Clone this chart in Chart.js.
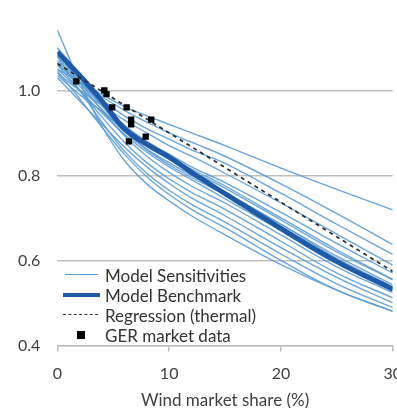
<!DOCTYPE html>
<html>
<head>
<meta charset="utf-8">
<script src="https://cdn.jsdelivr.net/npm/chart.js@4"></script>
<style>
  html, body { margin: 0; padding: 0; background: #fff; overflow: hidden; }
  #wrap { position: relative; width: 415px; height: 408px; }
  #legend { position: absolute; left: 62px; top: 265px; font-family: Lato, sans-serif; font-size: 17px; color: #333; }
  #legend .row { height: 20px; display: flex; align-items: center; }
  #legend .key { width: 40px; height: 20px; position: relative; margin-right: 3px; }
  #legend .thin { position: absolute; left: 3px; right: 4px; top: 9px; border-top: 1px solid #5b9bd5; }
  #legend .thick { position: absolute; left: 1px; right: 2px; top: 8px; border-top: 4px solid #1f5aa6; }
  #legend .dash { position: absolute; left: 1px; right: 4px; top: 9px; border-top: 1.5px dashed #333; }
  #legend .sq { position: absolute; left: 15px; top: 6px; width: 8px; height: 8px; background: #000; }
</style>
</head>
<body>
<div id="wrap">
  <canvas id="chart" width="415" height="408"></canvas>
  <div id="legend">
    <div class="row"><div class="key"><div class="thin"></div></div>Model Sensitivities</div>
    <div class="row"><div class="key"><div class="thick"></div></div>Model Benchmark</div>
    <div class="row"><div class="key"><div class="dash"></div></div>Regression (thermal)</div>
    <div class="row"><div class="key"><div class="sq"></div></div>GER market data</div>
  </div>
</div>
<script>
const shares = [0, 2, 4, 6, 8, 10, 12, 15, 20, 25, 30];

const sensitivities = [
  [1.142, 1.02, 0.915, 0.835, 0.78, 0.74, 0.705, 0.66, 0.59, 0.53, 0.48],
  [1.05, 1.02, 0.99, 0.962, 0.94, 0.92, 0.90, 0.87, 0.817, 0.767, 0.719],
  [1.06, 1.02, 0.985, 0.953, 0.925, 0.90, 0.878, 0.845, 0.78, 0.71, 0.637],
  [1.07, 1.02, 0.977, 0.94, 0.91, 0.885, 0.86, 0.828, 0.758, 0.685, 0.614],
  [1.04, 1.00, 0.965, 0.93, 0.90, 0.87, 0.845, 0.805, 0.735, 0.662, 0.589],
  [1.08, 1.02, 0.965, 0.918, 0.88, 0.85, 0.82, 0.783, 0.713, 0.64, 0.57],
  [1.035, 0.99, 0.95, 0.91, 0.875, 0.845, 0.815, 0.775, 0.70, 0.625, 0.555],
  [1.10, 1.03, 0.963, 0.905, 0.86, 0.825, 0.795, 0.755, 0.685, 0.61, 0.543],
  [1.05, 1.00, 0.947, 0.897, 0.855, 0.82, 0.79, 0.745, 0.67, 0.595, 0.53],
  [1.09, 1.02, 0.953, 0.893, 0.845, 0.807, 0.775, 0.735, 0.66, 0.585, 0.524],
  [1.06, 1.00, 0.937, 0.878, 0.83, 0.792, 0.76, 0.72, 0.645, 0.57, 0.512],
  [1.03, 0.975, 0.92, 0.867, 0.82, 0.781, 0.747, 0.705, 0.63, 0.56, 0.50],
  [1.08, 1.00, 0.925, 0.857, 0.805, 0.765, 0.732, 0.69, 0.615, 0.545, 0.489],
  [1.045, 0.98, 0.913, 0.85, 0.797, 0.755, 0.72, 0.677, 0.60, 0.53, 0.48],
  [1.10, 1.04, 0.975, 0.915, 0.87, 0.838, 0.81, 0.77, 0.695, 0.62, 0.555],
  [1.065, 1.01, 0.955, 0.903, 0.862, 0.83, 0.80, 0.76, 0.685, 0.605, 0.538]
];

const benchmark = [1.09, 1.035, 0.975, 0.91, 0.873, 0.843, 0.807, 0.757, 0.675, 0.597, 0.532];

const regressionX = [0, 30];
const regressionY = [1.063, 0.574];

const marketX = [1.7, 4.2, 4.4, 4.9, 6.2, 6.6, 6.6, 8.4, 6.4, 7.9];
const marketY = [1.021, 1.0, 0.991, 0.96, 0.96, 0.931, 0.92, 0.931, 0.88, 0.891];

const xTicks = [0, 10, 20, 30];
const yTicks = [0.4, 0.6, 0.8, 1.0];

const pts = (xs, ys) => xs.map((x, i) => ({ x: x, y: ys[i] }));

const datasets = [];
datasets.push({
  type: 'scatter',
  data: pts(marketX, marketY),
  pointStyle: 'rect',
  pointRadius: 4.5,
  backgroundColor: '#000',
  borderColor: '#000',
  borderWidth: 0
});
datasets.push({
  type: 'line',
  data: pts(regressionX, regressionY),
  borderColor: '#2b2b2b',
  borderWidth: 1.7,
  borderDash: [4, 4],
  pointRadius: 0,
  fill: false
});
datasets.push({
  type: 'line',
  data: pts(shares, benchmark),
  borderColor: '#1f5aa6',
  borderWidth: 5,
  pointRadius: 0,
  tension: 0.4,
  fill: false
});
sensitivities.forEach(s => {
  datasets.push({
    type: 'line',
    data: pts(shares, s),
    borderColor: 'rgba(91,155,213,0.9)',
    borderWidth: 1.4,
    pointRadius: 0,
    tension: 0.4,
    fill: false
  });
});

new Chart(document.getElementById('chart'), {
  data: { datasets: datasets },
  options: {
    responsive: false,
    animation: false,
    layout: { padding: { left: 1, right: 0, top: 0, bottom: -3 } },
    plugins: { legend: { display: false }, tooltip: { enabled: false } },
    scales: {
      x: {
        type: 'linear',
        min: 0,
        max: 30,
        afterBuildTicks: axis => { axis.ticks = xTicks.map(v => ({ value: v })); },
        grid: { drawOnChartArea: false, drawTicks: true, tickLength: 6, color: '#bfbfbf', lineWidth: 1.5 },
        border: { display: true, color: '#bfbfbf', width: 1.5 },
        ticks: { color: '#404040', font: { family: 'Lato', size: 16 }, padding: 13, maxRotation: 0 },
        title: { display: true, text: 'Wind market share (%)', color: '#404040', font: { family: 'Lato', size: 17 }, padding: { top: -6, bottom: 0 } }
      },
      y: {
        min: 0.4,
        max: 1.15,
        afterBuildTicks: axis => { axis.ticks = yTicks.map(v => ({ value: v })); },
        grid: { color: '#c0c0c0', lineWidth: 1.5, drawTicks: false },
        border: { display: false },
        ticks: { color: '#404040', font: { family: 'Lato', size: 16 }, padding: 17, callback: v => v.toFixed(1) }
      }
    }
  }
});
</script>
</body>
</html>
